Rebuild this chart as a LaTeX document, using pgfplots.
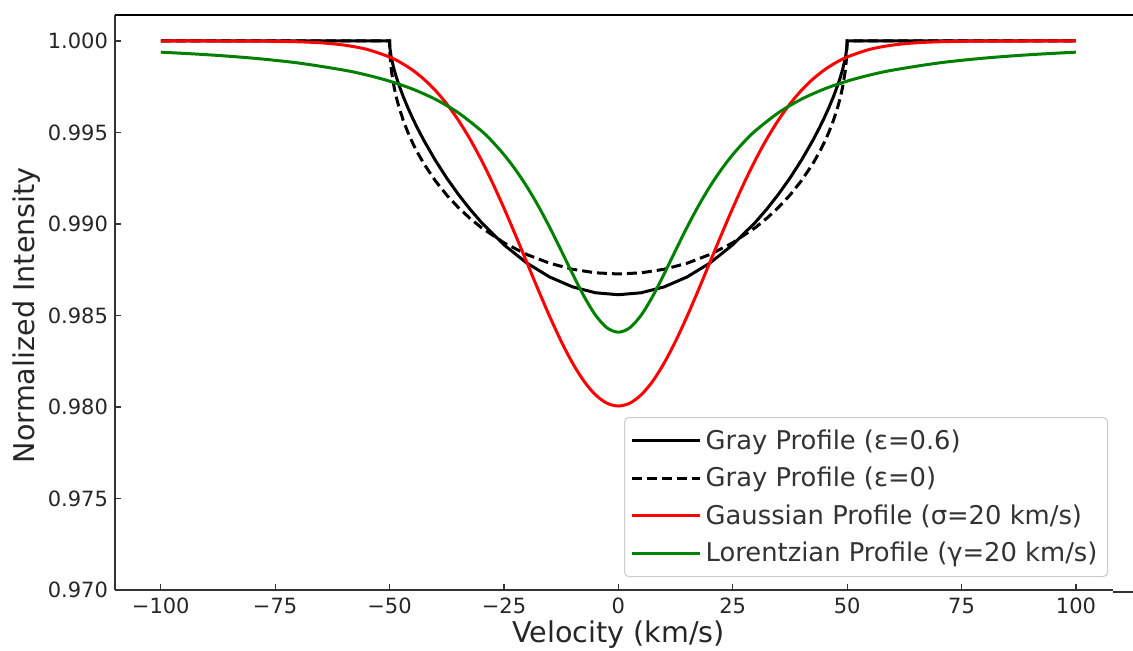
\documentclass[border=0pt]{standalone}
\usepackage{fontspec}
\setmainfont{DejaVu Sans}
\usepackage{pgfplots}
\pgfplotsset{compat=1.18}
\definecolor{txt}{RGB}{38,38,38}
\definecolor{lgdtxt}{RGB}{51,51,51}
\definecolor{spine}{RGB}{51,51,51}
\definecolor{mplgreen}{RGB}{0,128,0}
\definecolor{mplred}{RGB}{255,0,0}
\definecolor{lgdframe}{RGB}{204,204,204}

\pgfplotstableread{
v I
-100 1.000000
-50 1.000000
-49.9 0.999568
-49.7 0.999214
-49.5 0.998953
-49 0.998436
-48.5 0.998009
-48 0.997630
-47 0.996955
-46 0.996353
-45 0.995800
-44 0.995284
-42.5 0.994565
-40 0.993480
-37.5 0.992508
-35 0.991629
-32.5 0.990831
-30 0.990107
-25 0.988862
-20 0.987865
-15 0.987102
-10 0.986562
-5 0.986241
0 0.986134
5 0.986241
10 0.986562
15 0.987102
20 0.987865
25 0.988862
30 0.990107
32.5 0.990831
35 0.991629
37.5 0.992508
40 0.993480
42.5 0.994565
44 0.995284
45 0.995800
46 0.996353
47 0.996955
48 0.997630
48.5 0.998009
49 0.998436
49.5 0.998953
49.7 0.999214
49.9 0.999568
50 1.000000
100 1.000000
}\graysix

\pgfplotstableread{
v I
-100 1.000000
-50 1.000000
-49.9 0.999195
-49.7 0.998607
-49.5 0.998204
-49 0.997466
-48.5 0.996905
-48 0.996435
-47 0.995656
-46 0.995010
-45 0.994450
-44 0.993952
-42.5 0.993293
-40 0.992361
-37.5 0.991578
-35 0.990907
-32.5 0.990324
-30 0.989814
-25 0.988973
-20 0.988331
-15 0.987854
-10 0.987525
-5 0.987331
0 0.987268
5 0.987331
10 0.987525
15 0.987854
20 0.988331
25 0.988973
30 0.989814
32.5 0.990324
35 0.990907
37.5 0.991578
40 0.992361
42.5 0.993293
44 0.993952
45 0.994450
46 0.995010
47 0.995656
48 0.996435
48.5 0.996905
49 0.997466
49.5 0.998204
49.7 0.998607
49.9 0.999195
50 1.000000
100 1.000000
}\grayzero

\pgfplotstableread{
v I
-100 1.000000
-90 0.999999
-80 0.999993
-75 0.999982
-70 0.999956
-65 0.999899
-60 0.999778
-55 0.999545
-50 0.999124
-47.5 0.998811
-45 0.998413
-42.5 0.997914
-40 0.997300
-37.5 0.996561
-35 0.995686
-32.5 0.994673
-30 0.993524
-27.5 0.992249
-25 0.990868
-22.5 0.989406
-20 0.987901
-17.5 0.986397
-15 0.984943
-12.5 0.983592
-10 0.982397
-7.5 0.981407
-5 0.980667
-2.5 0.980208
0 0.980053
2.5 0.980208
5 0.980667
7.5 0.981407
10 0.982397
12.5 0.983592
15 0.984943
17.5 0.986397
20 0.987901
22.5 0.989406
25 0.990868
27.5 0.992249
30 0.993524
32.5 0.994673
35 0.995686
37.5 0.996561
40 0.997300
42.5 0.997914
45 0.998413
47.5 0.998811
50 0.999124
55 0.999545
60 0.999778
65 0.999899
70 0.999956
75 0.999982
80 0.999993
90 0.999999
100 1.000000
}\gauss

\pgfplotstableread{
v I
-100 0.999388
-90 0.999251
-80 0.999064
-70 0.998799
-60 0.998408
-55 0.998141
-50 0.997805
-45 0.997375
-40 0.996817
-35 0.996082
-30 0.995103
-27.5 0.994494
-25 0.993789
-22.5 0.992975
-20 0.992042
-17.5 0.990986
-15 0.989814
-12.5 0.988555
-10 0.987268
-7.5 0.986047
-5 0.985021
-2.5 0.984329
0 0.984085
2.5 0.984329
5 0.985021
7.5 0.986047
10 0.987268
12.5 0.988555
15 0.989814
17.5 0.990986
20 0.992042
22.5 0.992975
25 0.993789
27.5 0.994494
30 0.995103
35 0.996082
40 0.996817
45 0.997375
50 0.997805
55 0.998141
60 0.998408
70 0.998799
80 0.999064
90 0.999251
100 0.999388
}\lorentz

\begin{document}
\begin{tikzpicture}
\path[use as bounding box] (0pt,0pt) rectangle (566.5pt,325.5pt);
\begin{axis}[
  at={(57.5pt,30.5pt)}, anchor=south west,
  scale only axis, width=499pt, height=287.5pt,
  xmin=-110, xmax=108.1, ymin=0.970, ymax=1.00142,
  axis x line*=bottom, axis y line*=left,
  every outer x axis line/.append style={-},
  every outer y axis line/.append style={-},
  axis line style={spine, line width=0.75pt, -},
  xtick={-100,-75,-50,-25,0,25,50,75,100},
  xticklabels={−100,−75,−50,−25,0,25,50,75,100},
  ytick={0.970,0.975,0.980,0.985,0.990,0.995,1.000},
  yticklabels={0.970,0.975,0.980,0.985,0.990,0.995,1.000},
  tick align=inside, major tick length=3pt,
  tick style={spine, line width=0.6pt},
  xtick pos=bottom, ytick pos=left,
  ticklabel style={font=\fontsize{10.5}{12.5}\selectfont, text=txt},
  xticklabel style={yshift=-0.5pt},
  every axis x label/.style={at={(axis description cs:0.5045,-0.0783)}, anchor=center},
  every axis y label/.style={at={(axis description cs:-0.0882,0.478)}, rotate=90, anchor=center},
  label style={font=\fontsize{14.3}{17}\selectfont, text=txt},
  xlabel={Velocity (km/s)},
  ylabel={Normalized Intensity},
  legend cell align=left,
  legend image code/.code={\draw[#1] (0pt,0pt) -- (27.5pt,0pt); \path (0pt,0pt) -- (34pt,0pt);},
  legend style={at={(axis description cs:0.995,0.0226)}, anchor=south east,
    draw=lgdframe, line width=0.5pt, rounded corners=2pt, fill=white,
    font=\fontsize{12.9}{15.5}\selectfont, text=lgdtxt,
    inner xsep=3pt, inner ysep=4pt, row sep=3.4pt,
    nodes={inner sep=2pt},
    /tikz/every even column/.append style={column sep=2pt}},
  clip=false,
]
\addplot[black, line width=1.5pt] table[x=v,y=I] {\graysix};
\addlegendentry{Gray Profile (ε=0.6)}
\addplot[black, line width=1.5pt, dash pattern=on 5pt off 2.5pt] table[x=v,y=I] {\grayzero};
\addlegendentry{Gray Profile (ε=0)}
\addplot[mplred, line width=1.5pt, smooth] table[x=v,y=I] {\gauss};
\addlegendentry{Gaussian Profile (σ=20 km/s)}
\addplot[mplgreen, line width=1.5pt, smooth] table[x=v,y=I] {\lorentz};
\addlegendentry{Lorentzian Profile (γ=20 km/s)}
\end{axis}
\draw[black, line width=1pt] (57.5pt,318pt) -- (566.5pt,318pt);
\draw[spine, line width=0.75pt] (556.5pt,29.5pt) -- (566.5pt,29.5pt);
\end{tikzpicture}
\end{document}
